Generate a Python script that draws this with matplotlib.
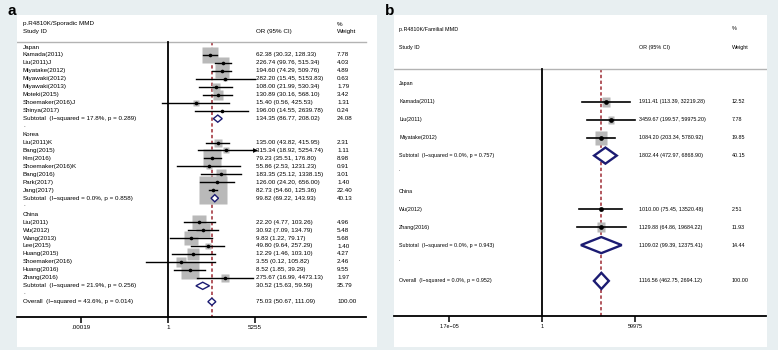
import matplotlib
matplotlib.use('Agg')
import matplotlib.pyplot as plt
import numpy as np
from matplotlib.patches import Polygon
from matplotlib.path import Path
from matplotlib.ticker import NullLocator

plt.rcParams['font.family'] = ['Liberation Sans', 'DejaVu Sans']

# ---------------- Panel a data: p.R4810K / Sporadic MMD ----------------
groups_a = ['Japan', 'Korea', 'China']
studies_a = [
    ['Kamada(2011)', 'Liu(2011)J', 'Miyatake(2012)', 'Miyawaki(2012)', 'Miyawaki(2013)',
     'Moteki(2015)', 'Shoemaker(2016)J', 'Shinya(2017)'],
    ['Liu(2011)K', 'Bang(2015)', 'Kim(2016)', 'Shoemaker(2016)K', 'Bang(2016)',
     'Park(2017)', 'Jang(2017)'],
    ['Liu(2011)', 'Wu(2012)', 'Wang(2013)', 'Lee(2015)', 'Huang(2015)',
     'Shoemaker(2016)', 'Huang(2016)', 'Zhang(2016)'],
]
or_a = [
    [62.38, 226.74, 194.60, 282.20, 108.00, 130.89, 15.40, 196.00],
    [135.00, 315.34, 79.23, 55.86, 183.35, 126.00, 82.73],
    [22.20, 30.92, 9.83, 49.80, 12.29, 3.55, 8.52, 275.67],
]
lo_a = [
    [30.32, 99.76, 74.29, 15.45, 21.99, 30.16, 0.56, 14.55],
    [43.82, 18.92, 35.51, 2.53, 25.12, 24.20, 54.60],
    [4.77, 7.09, 1.22, 9.64, 1.46, 0.12, 1.85, 16.99],
]
hi_a = [
    [128.33, 515.34, 509.76, 5153.83, 530.34, 568.10, 425.53, 2639.78],
    [415.95, 5254.74, 176.80, 1231.23, 1338.15, 656.00, 125.36],
    [103.26, 134.79, 79.17, 257.29, 103.10, 105.82, 39.29, 4473.13],
]
w_a = [
    [7.78, 4.03, 4.89, 0.63, 1.79, 3.42, 1.31, 0.24],
    [2.31, 1.11, 8.98, 0.91, 3.01, 1.40, 22.40],
    [4.96, 5.48, 5.68, 1.40, 4.27, 2.46, 9.55, 1.97],
]
sub_label_a = ['Subtotal  (I\u2212squared = 17.8%, p = 0.289)',
               'Subtotal  (I\u2212squared = 0.0%, p = 0.858)',
               'Subtotal  (I\u2212squared = 21.9%, p = 0.256)']
sub_or_a = [134.35, 99.82, 30.52]
sub_lo_a = [86.77, 69.22, 15.63]
sub_hi_a = [208.02, 143.93, 59.59]
sub_w_a = [24.08, 40.13, 35.79]
overall_label_a = 'Overall  (I\u2212squared = 43.6%, p = 0.014)'
overall_a = (75.03, 50.67, 111.09, 100.00)
ticks_a = [0.00019, 1, 5255]
ticklabels_a = ['.00019', '1', '5255']
title_a = 'p.R4810K/Sporadic MMD'

# ---------------- Panel b data: p.R4810K / Familial MMD ----------------
groups_b = ['Japan', 'China']
studies_b = [['Kamada(2011)', 'Liu(2011)', 'Miyatake(2012)'],
             ['Wu(2012)', 'Zhang(2016)']]
or_b = [[1911.41, 3459.67, 1084.20], [1010.00, 1129.88]]
lo_b = [[113.39, 199.57, 203.34], [75.45, 64.86]]
hi_b = [[32219.28, 59975.20, 5780.92], [13520.48, 19684.22]]
w_b = [[12.52, 7.78, 19.85], [2.51, 11.93]]
sub_label_b = ['Subtotal  (I\u2212squared = 0.0%, p = 0.757)',
               'Subtotal  (I\u2212squared = 0.0%, p = 0.943)']
sub_or_b = [1802.44, 1109.02]
sub_lo_b = [472.97, 99.39]
sub_hi_b = [6868.90, 12375.41]
sub_w_b = [40.15, 14.44]
overall_label_b = 'Overall  (I\u2212squared = 0.0%, p = 0.952)'
overall_b = (1116.56, 462.75, 2694.12, 100.00)
ticks_b = [1.7e-05, 1, 59975]
ticklabels_b = ['1.7e\u221205', '1', '59975']
title_b = 'p.R4810K/Familial MMD'

BG = '#e8eff1'
SQ = '#b9b9b9'
NAVY = '#1b1b72'
RED = '#9e2a33'
W, H = 778, 350

fig = plt.figure(figsize=(W / 100, H / 100), dpi=100)
fig.patch.set_facecolor(BG)


def fmt(o, l, h):
    return f'{o:.2f} ({l:.2f}, {h:.2f})'


def panel(box, one_px, ppd, row0_px, row_px, hdr_px, axis_px, axis_l, axis_r,
          name_px, or_px, w_px, title_rows_px, fs, groups, studies, ors, los, his, ws,
          sub_labels, sub_ors, sub_los, sub_his, sub_ws, ov_label, ov, ticks, ticklabels,
          sq_w, sq_h, dot_ms, ci_lw, dia_lw, dia_half, title, arrows):
    l, t, r, b = box
    ax = fig.add_axes([l / W, 1 - b / H, (r - l) / W, (b - t) / H])
    ax.set_facecolor('white')
    px2x = lambda p: 10 ** ((p - one_px) / ppd)
    px2y = lambda p: (p - row0_px) / row_px
    ax.set_xscale('log')
    ax.set_xlim(px2x(l), px2x(r))
    ax.set_ylim(px2y(b), px2y(t))
    for s in ['top', 'left', 'right']:
        ax.spines[s].set_visible(False)
    ax.spines['bottom'].set_position(('data', px2y(axis_px)))
    ax.spines['bottom'].set_bounds(px2x(axis_l), px2x(axis_r))
    ax.spines['bottom'].set_linewidth(1.3)
    ax.set_yticks([])
    ax.set_xticks(ticks)
    ax.set_xticklabels(ticklabels)
    ax.xaxis.set_minor_locator(NullLocator())
    ax.tick_params(axis='x', length=4, width=1.1, labelsize=fs, pad=2)

    hy = px2y(hdr_px)
    ay = px2y(axis_px)
    ax.plot([px2x(axis_l), px2x(axis_r)], [hy, hy], color='#b3b3b3', lw=1.0)
    ax.plot([1, 1], [hy, ay], color='black', lw=1.3, zorder=4)
    ax.plot([ov[0], ov[0]], [hy, ay], color=RED, lw=1.1, ls=(0, (2.2, 1.6)), zorder=1)

    ax.text(px2x(name_px), px2y(title_rows_px[0]), title, fontsize=fs, va='center')
    ax.text(px2x(name_px), px2y(title_rows_px[1]), 'Study ID', fontsize=fs, va='center')
    ax.text(px2x(or_px), px2y(title_rows_px[1]), 'OR (95% CI)', fontsize=fs, va='center')
    ax.text(px2x(w_px), px2y(title_rows_px[0]), '%', fontsize=fs, va='center')
    ax.text(px2x(w_px), px2y(title_rows_px[1]), 'Weight', fontsize=fs, va='center')

    rect = Path([(-sq_w, -sq_h), (sq_w, -sq_h), (sq_w, sq_h), (-sq_w, sq_h), (-sq_w, -sq_h)],
                [Path.MOVETO, Path.LINETO, Path.LINETO, Path.LINETO, Path.CLOSEPOLY])
    xmax_axis = ticks[-1]

    def diamond(y, o, lo, hi):
        d = Polygon([(lo, y), (o, y - dia_half), (hi, y), (o, y + dia_half)],
                    closed=True, facecolor='white', edgecolor=NAVY, lw=dia_lw, zorder=5)
        ax.add_patch(d)

    row = 0
    for gi, g in enumerate(groups):
        ax.text(px2x(name_px), row, g, fontsize=fs, va='center')
        row += 1
        for s, o, lo, hi, w in zip(studies[gi], ors[gi], los[gi], his[gi], ws[gi]):
            side = np.sqrt(w) * max(sq_w, sq_h) * 2 * 0.72
            ax.plot(o, row, marker=rect, ms=side, color=SQ, mec='none', ls='none', zorder=2)
            ax.plot([lo, hi], [row, row], color='black', lw=ci_lw, zorder=3)
            if arrows and hi >= xmax_axis * 0.999:
                ax.plot(hi, row, marker='>', ms=3.5, color='black', mec='none', zorder=3)
            ax.plot(o, row, marker='o', ms=dot_ms, color='black', mec='none', zorder=4)
            ax.text(px2x(name_px), row, s, fontsize=fs, va='center')
            ax.text(px2x(or_px), row, fmt(o, lo, hi), fontsize=fs, va='center')
            ax.text(px2x(w_px), row, f'{w:.2f}', fontsize=fs, va='center')
            row += 1
        diamond(row, sub_ors[gi], sub_los[gi], sub_his[gi])
        ax.text(px2x(name_px), row, sub_labels[gi], fontsize=fs, va='center')
        ax.text(px2x(or_px), row, fmt(sub_ors[gi], sub_los[gi], sub_his[gi]), fontsize=fs, va='center')
        ax.text(px2x(w_px), row, f'{sub_ws[gi]:.2f}', fontsize=fs, va='center')
        row += 1
        ax.text(px2x(name_px), row - 0.2, '.', fontsize=fs, va='center')
        row += 1
    diamond(row, ov[0], ov[1], ov[2])
    ax.text(px2x(name_px), row, ov_label, fontsize=fs, va='center')
    ax.text(px2x(or_px), row, fmt(ov[0], ov[1], ov[2]), fontsize=fs, va='center')
    ax.text(px2x(w_px), row, f'{ov[3]:.2f}', fontsize=fs, va='center')
    return ax


panel(box=(17, 15, 377, 347), one_px=168, ppd=23.39, row0_px=47, row_px=7.96,
      hdr_px=42, axis_px=317, axis_l=17, axis_r=366, name_px=23, or_px=256, w_px=337,
      title_rows_px=(24, 32), fs=4.5, groups=groups_a, studies=studies_a, ors=or_a,
      los=lo_a, his=hi_a, ws=w_a, sub_labels=sub_label_a, sub_ors=sub_or_a,
      sub_los=sub_lo_a, sub_his=sub_hi_a, sub_ws=sub_w_a, ov_label=overall_label_a,
      ov=overall_a, ticks=ticks_a, ticklabels=ticklabels_a, sq_w=2.95, sq_h=2.95,
      dot_ms=2.6, ci_lw=1.0, dia_lw=1.0, dia_half=0.45, title=title_a, arrows=True)

panel(box=(394, 15, 767, 347), one_px=542, ppd=19.48, row0_px=84, row_px=17.9,
      hdr_px=69, axis_px=316, axis_l=394, axis_r=766, name_px=399, or_px=639, w_px=732,
      title_rows_px=(29, 47), fs=3.9, groups=groups_b, studies=studies_b, ors=or_b,
      los=lo_b, his=hi_b, ws=w_b, sub_labels=sub_label_b, sub_ors=sub_or_b,
      sub_los=sub_lo_b, sub_his=sub_hi_b, sub_ws=sub_w_b, ov_label=overall_label_b,
      ov=overall_b, ticks=ticks_b, ticklabels=ticklabels_b, sq_w=1.25, sq_h=1.55,
      dot_ms=3.4, ci_lw=1.2, dia_lw=1.7, dia_half=0.45, title=title_b, arrows=False)

fig.text(8 / W, 1 - 11 / H, 'a', fontsize=11, fontweight='bold', va='center', ha='left')
fig.text(385 / W, 1 - 11 / H, 'b', fontsize=11, fontweight='bold', va='center', ha='left')

fig.savefig('out.png', dpi=100, facecolor=BG)
